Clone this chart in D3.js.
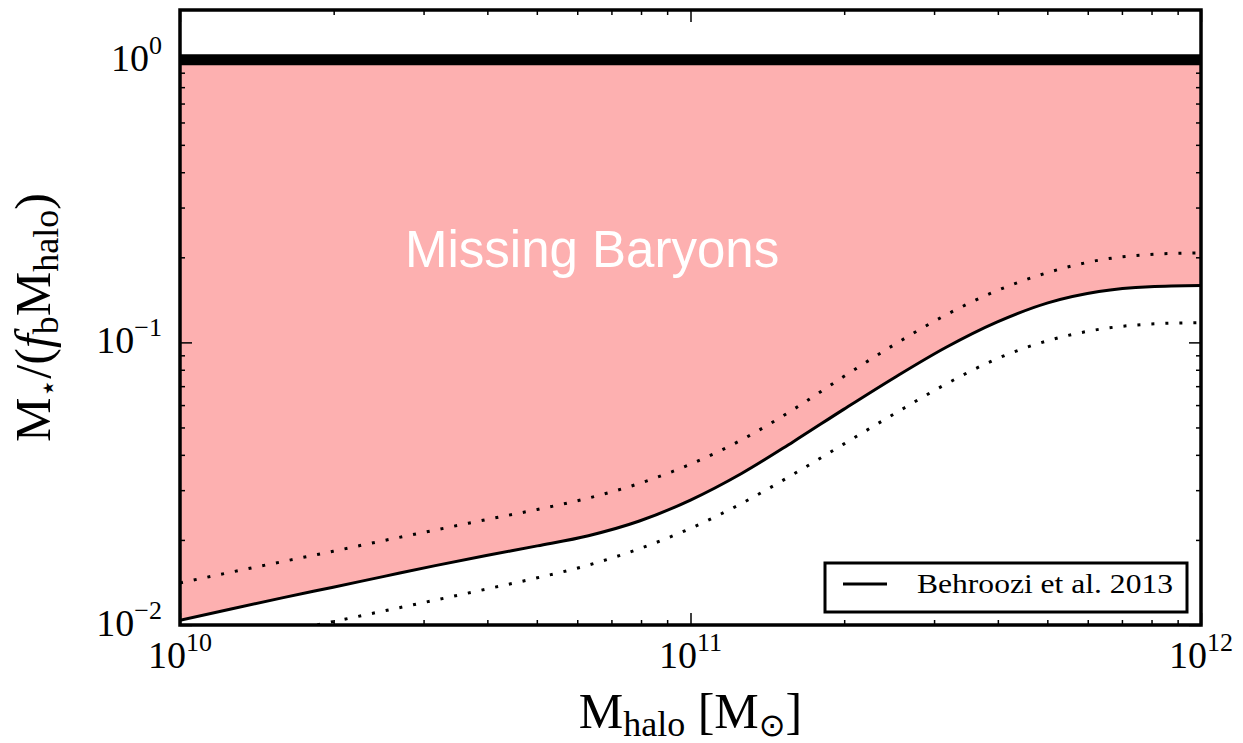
<!DOCTYPE html>
<html>
<head>
<meta charset="utf-8">
<script src="https://cdn.jsdelivr.net/npm/d3@7"></script>
<style>
  body { margin: 0; background: #fff; }
  text { font-family: "Liberation Serif", "DejaVu Serif", serif; fill: #000; }
</style>
</head>
<body>
<svg width="1243" height="743"></svg>
<script>
// halo mass sampling, log10(M_halo / Msun)
var logMass = [10.0, 10.1, 10.2, 10.3, 10.4, 10.5, 10.6, 10.7, 10.8, 10.9, 11.0,
               11.1, 11.2, 11.3, 11.4, 11.5, 11.6, 11.7, 11.8, 11.9, 12.0];
// M* / (fb Mhalo)
var behroozi   = [0.0104, 0.0114, 0.01247, 0.01361, 0.01486, 0.01622, 0.01762, 0.01905, 0.0207, 0.02333, 0.02767,
                  0.03436, 0.04436, 0.05794, 0.07516, 0.09594, 0.118, 0.138, 0.1514, 0.1574, 0.1589];
var behrooziHi = [0.01409, 0.01538, 0.01675, 0.01824, 0.01991, 0.02168, 0.0236, 0.02564, 0.02812, 0.0317, 0.03707,
                  0.04519, 0.05768, 0.07568, 0.0984, 0.125, 0.1524, 0.1766, 0.1954, 0.2046, 0.2075];
var behrooziLo = [0.00796, 0.00867, 0.00944, 0.01028, 0.01122, 0.01225, 0.0134, 0.01469, 0.01629, 0.01862, 0.02198,
                  0.02692, 0.03404, 0.04365, 0.05598, 0.07112, 0.0875, 0.1014, 0.1112, 0.1161, 0.1175];
var baryonLimit = 1.0;

var xTicks = [1e10, 1e11, 1e12];
var xTickExp = ["10", "11", "12"];
var yTicks = [1e-2, 1e-1, 1e0];
var yTickExp = ["\u22122", "\u22121", "0"];

var svg = d3.select("svg");
var pLeft = 180, pRight = 1201, pTop = 10, pBottom = 625;

var x = d3.scaleLog().domain([1e10, 1e12]).range([pLeft, pRight]);
var y = d3.scaleLog().domain([0.01, 1.5]).range([pBottom, pTop]);

var pts = function(arr) {
  return logMass.map(function(lm, i) { return [Math.pow(10, lm), arr[i]]; });
};

svg.append("defs").append("clipPath").attr("id", "plotclip")
  .append("rect").attr("x", pLeft).attr("y", pTop)
  .attr("width", pRight - pLeft).attr("height", pBottom - pTop);

var plot = svg.append("g").attr("clip-path", "url(#plotclip)");

// missing baryons region
var area = d3.area()
  .x(function(d) { return x(d[0]); })
  .y0(y(baryonLimit))
  .y1(function(d) { return y(d[1]); })
  .curve(d3.curveMonotoneX);

plot.append("path")
  .datum(pts(behroozi))
  .attr("d", area)
  .attr("fill", "#fdb0b0");

var line = d3.line()
  .x(function(d) { return x(d[0]); })
  .y(function(d) { return y(d[1]); })
  .curve(d3.curveMonotoneX);

[behrooziHi, behrooziLo].forEach(function(arr) {
  plot.append("path")
    .datum(pts(arr))
    .attr("d", line)
    .attr("fill", "none")
    .attr("stroke", "#000")
    .attr("stroke-width", 3)
    .attr("stroke-dasharray", "3,11");
});

plot.append("path")
  .datum(pts(behroozi))
  .attr("d", line)
  .attr("fill", "none")
  .attr("stroke", "#000")
  .attr("stroke-width", 3);

plot.append("line")
  .attr("x1", pLeft).attr("x2", pRight)
  .attr("y1", y(baryonLimit)).attr("y2", y(baryonLimit))
  .attr("stroke", "#000")
  .attr("stroke-width", 11);

plot.append("text")
  .attr("x", 405).attr("y", 267)
  .style("font-family", "'Liberation Sans', Arial, sans-serif")
  .style("font-size", "51px")
  .style("fill", "#fff")
  .text("Missing Baryons");

// minor ticks
var xMinor = [];
[1e10, 1e11].forEach(function(d) { for (var k = 2; k <= 9; k++) xMinor.push(d * k); });
var yMinor = [];
[1e-2, 1e-1].forEach(function(d) { for (var k = 2; k <= 9; k++) yMinor.push(d * k); });

function addAxis(axis, tx, ty) {
  var g = svg.append("g").attr("transform", "translate(" + tx + "," + ty + ")").call(axis);
  g.select(".domain").remove();
  g.selectAll("text").remove();
  g.selectAll("line").attr("stroke", "#000").attr("stroke-width", 1.5);
}

addAxis(d3.axisBottom(x).tickValues(xTicks).tickSize(-12), 0, pBottom);
addAxis(d3.axisBottom(x).tickValues(xMinor).tickSize(-5), 0, pBottom);
addAxis(d3.axisTop(x).tickValues(xTicks).tickSize(-12), 0, pTop);
addAxis(d3.axisTop(x).tickValues(xMinor).tickSize(-5), 0, pTop);
addAxis(d3.axisLeft(y).tickValues(yTicks).tickSize(-12), pLeft, 0);
addAxis(d3.axisLeft(y).tickValues(yMinor).tickSize(-5), pLeft, 0);
addAxis(d3.axisRight(y).tickValues(yTicks).tickSize(-12), pRight, 0);
addAxis(d3.axisRight(y).tickValues(yMinor).tickSize(-5), pRight, 0);

// frame
svg.append("rect")
  .attr("x", pLeft).attr("y", pTop)
  .attr("width", pRight - pLeft).attr("height", pBottom - pTop)
  .attr("fill", "none").attr("stroke", "#000").attr("stroke-width", 3.5);

// tick labels
xTicks.forEach(function(v, i) {
  var t = svg.append("text")
    .attr("x", x(v)).attr("y", 668)
    .attr("text-anchor", "middle")
    .style("font-size", "38px");
  t.append("tspan").text("10");
  t.append("tspan").attr("dy", -17).style("font-size", "26px").text(xTickExp[i]);
});

yTicks.forEach(function(v, i) {
  var t = svg.append("text")
    .attr("x", 162).attr("y", y(v) + 11)
    .attr("text-anchor", "end")
    .style("font-size", "38px");
  t.append("tspan").text("10");
  t.append("tspan").attr("dy", -17).style("font-size", "26px").text(yTickExp[i]);
});

// axis titles
var xt = svg.append("text")
  .attr("x", (pLeft + pRight) / 2).attr("y", 728)
  .attr("text-anchor", "middle")
  .style("font-size", "50px");
xt.append("tspan").text("M");
xt.append("tspan").attr("dy", 8).style("font-size", "36px").text("halo");
xt.append("tspan").attr("dy", -8).text(" [M");
xt.append("tspan").attr("dy", 8).style("font-size", "32px").style("font-family", "'DejaVu Sans'").text("\u2299");
xt.append("tspan").attr("dy", -8).text("]");

var yt = svg.append("text")
  .attr("transform", "translate(50," + ((pTop + pBottom) / 2) + ") rotate(-90)")
  .attr("text-anchor", "middle")
  .style("font-size", "50px");
yt.append("tspan").text("M");
yt.append("tspan").attr("dy", 8).style("font-size", "30px").style("font-family", "'DejaVu Sans'").text("\u22c6");
yt.append("tspan").attr("dy", -8).text("/(");
yt.append("tspan").style("font-style", "italic").text("f");
yt.append("tspan").attr("dy", 8).style("font-size", "36px").text("b");
yt.append("tspan").attr("dy", -8).text("M");
yt.append("tspan").attr("dy", 8).style("font-size", "36px").text("halo");
yt.append("tspan").attr("dy", -8).text(")");

// legend
var lg = svg.append("g");
lg.append("rect")
  .attr("x", 825).attr("y", 563)
  .attr("width", 362).attr("height", 49)
  .attr("fill", "#fff").attr("stroke", "#000").attr("stroke-width", 3);
lg.append("line")
  .attr("x1", 843).attr("x2", 887)
  .attr("y1", 584).attr("y2", 584)
  .attr("stroke", "#000").attr("stroke-width", 3);
lg.append("text")
  .attr("x", 917).attr("y", 593)
  .attr("textLength", 256).attr("lengthAdjust", "spacingAndGlyphs")
  .style("font-size", "27px")
  .text("Behroozi et al. 2013");
</script>
</body>
</html>
